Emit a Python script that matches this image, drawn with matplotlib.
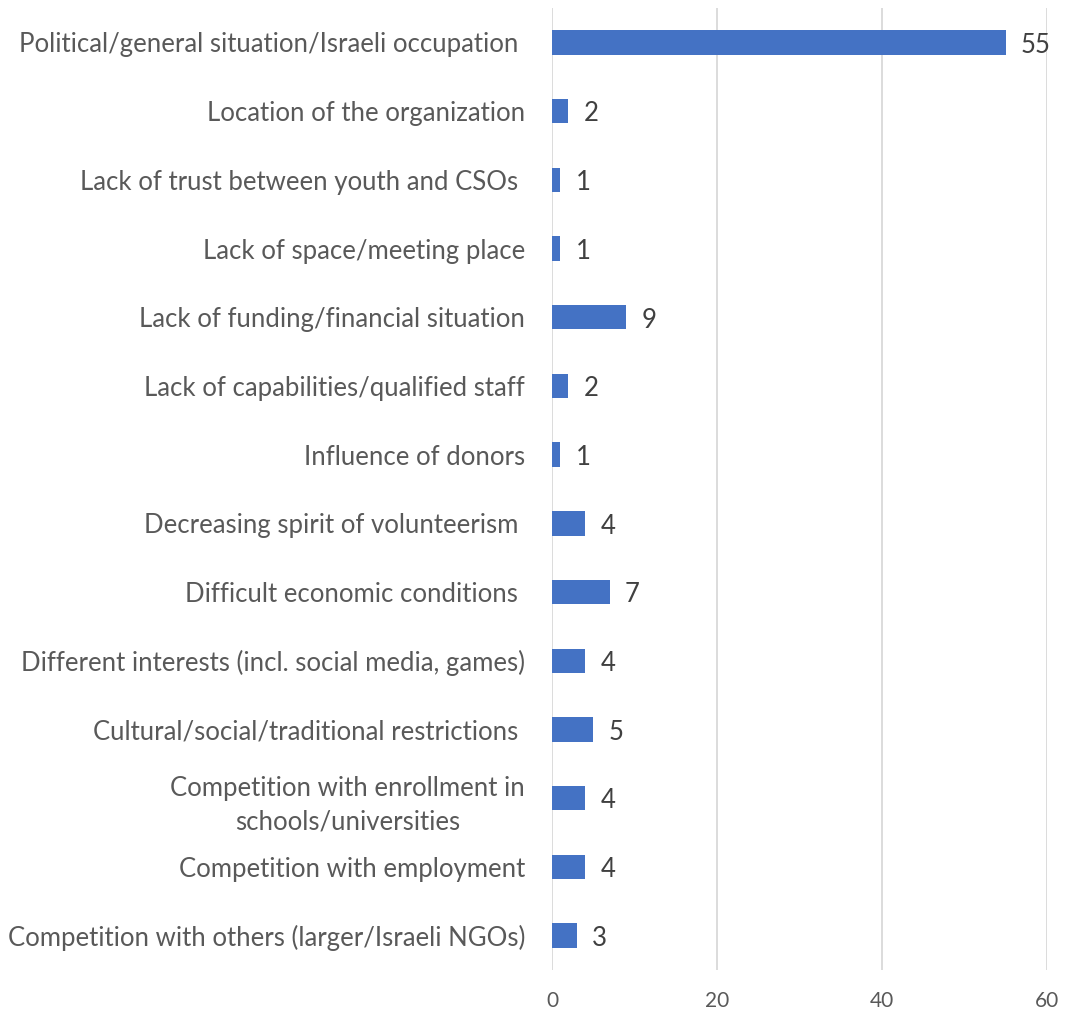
import matplotlib.pyplot as plt
import numpy as np

# categories (top to bottom) and counts
labels = [
    'Political/general situation/Israeli occupation ',
    'Location of the organization',
    'Lack of trust between youth and CSOs ',
    'Lack of space/meeting place',
    'Lack of funding/financial situation',
    'Lack of capabilities/qualified staff',
    'Influence of donors',
    'Decreasing spirit of volunteerism ',
    'Difficult economic conditions ',
    'Different interests (incl. social media, games)',
    'Cultural/social/traditional restrictions ',
    'Competition with enrollment in\nschools/universities',
    'Competition with employment',
    'Competition with others (larger/Israeli NGOs)',
]
counts = [55, 2, 1, 1, 9, 2, 1, 4, 7, 4, 5, 4, 4, 3]

plt.rcParams['font.family'] = ['Lato', 'DejaVu Sans']

fig = plt.figure(figsize=(10.67, 10.11), dpi=100, facecolor='white')
ax = fig.add_axes([0.5173, 0.0406, 0.4640, 0.9514])

y = np.arange(len(labels))
ax.barh(y, counts, height=0.355, color='#4472C4', zorder=3)

for yi, v in zip(y, counts):
    ax.annotate(str(v), (v, yi), xytext=(11, -2), textcoords='offset points',
                va='center', ha='left', fontsize=18.5, color='#404040', zorder=4)

ax.set_xlim(0, 60)
ax.set_ylim(len(labels) - 0.5, -0.5)
ax.set_xticks([0, 20, 40, 60])
ax.set_yticks(y)
ax.set_yticklabels(labels, fontsize=18.5, color='#595959',
                   multialignment='center', linespacing=1.45)
ax.tick_params(axis='x', labelsize=15, colors='#595959', length=0, pad=15)
ax.tick_params(axis='y', length=0, pad=19.5)
ax.grid(axis='x', color='#D9D9D9', linewidth=1.3, zorder=0)
for s in ax.spines.values():
    s.set_visible(False)

fig.savefig('out.png', dpi=100, facecolor='white')
